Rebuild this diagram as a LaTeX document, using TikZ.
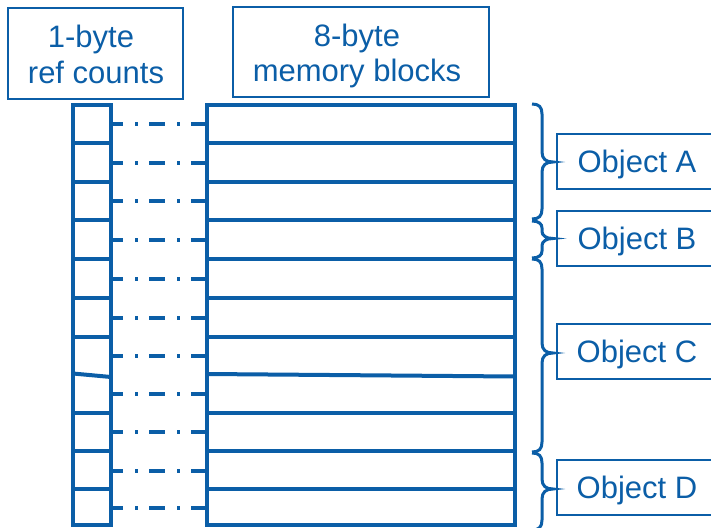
\documentclass[tikz,border=0pt]{standalone}
\usepackage{fontspec}
\setmainfont{Liberation Sans}
\definecolor{mblue}{RGB}{11,94,167}
\begin{document}
\begin{tikzpicture}[x=1pt,y=-1pt,
  grid/.style={draw=mblue, line width=4pt},
  hdr/.style={draw=mblue, line width=2pt, inner sep=0pt},
  txt/.style={text=mblue, font=\fontsize{31}{35}\selectfont, anchor=base, inner sep=0pt},
  objbox/.style={draw=mblue, line width=2pt, text=mblue, font=\fontsize{31}{35}\selectfont, minimum width=160pt, minimum height=55pt, text height=22pt, text depth=0pt, inner sep=0pt},
  conn/.style={mblue, line width=4pt, dash pattern=on 16pt off 12pt on 3pt off 11pt, dash phase=4pt},
  bracestyle/.style={draw=mblue, line width=3pt}]
\clip (0,0) rectangle (711,527);
% headers
\node[hdr, minimum width=175pt, minimum height=91pt] (hdrR) at (95.5,53.5) {};
\node[txt] (hdrR1) at (91,48) {1-byte};
\node[txt] (hdrR2) at (96,83) {ref counts};
\node[hdr, minimum width=256pt, minimum height=90pt] (hdrM) at (361,52) {};
\node[txt] (hdrM1) at (357,46) {8-byte};
\node[txt] (hdrM2) at (357,81) {memory blocks};
% grid
\draw[grid] (73,105) rectangle (111,525);
\draw[grid] (207,105) rectangle (515,525);
\foreach \yy in {143,182,220,259,298,337,413,451,489} {
  \draw[grid] (73,\yy) -- (111,\yy);
  \draw[grid] (207,\yy) -- (515,\yy);
}
\draw[grid] (73,373.5) -- (111,377);
\draw[grid] (207,374) -- (515,376.5);
% connectors
\foreach \yy [count=\i] in {124,162.5,201,239.5,278.5,317.5,356,394,432,471,508} {
  \coordinate (r\i) at (111,\yy);
  \coordinate (m\i) at (207,\yy);
  \draw[conn] (r\i) -- (m\i);
}
% braces
\foreach \ya/\ym/\yb/\rr in {104/162/219/10, 221/238.5/258/7, 259/353/452/10, 453/489/530/10} {
  \draw[bracestyle] (532,\ya) .. controls (539,\ya) and (542,{\ya+3}) .. (542,{\ya+\rr})
    -- (542,{\ym-\rr}) .. controls (542,{\ym-3}) and (546,\ym) .. (553,\ym)
    .. controls (546,\ym) and (542,{\ym+3}) .. (542,{\ym+\rr})
    -- (542,{\yb-\rr}) .. controls (542,{\yb-3}) and (539,\yb) .. (532,\yb);
}
% objects
\node[objbox] (objA) at (637,161.5) {Object A};
\node[objbox] (objB) at (637,238) {Object B};
\node[objbox] (objC) at (637,351) {Object C};
\node[objbox] (objD) at (637,487) {Object D};
\end{tikzpicture}
\end{document}
